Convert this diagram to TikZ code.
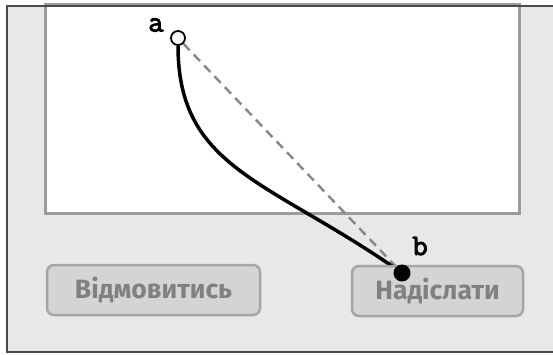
\documentclass[tikz,border=0pt]{standalone}
\usepackage{fontspec}
\setmainfont{Fira Sans}
\newfontfamily\lblfont[FakeBold=3]{Latin Modern Mono}
\pgfdeclarelayer{bg}
\pgfdeclarelayer{lines}
\pgfsetlayers{bg,lines,main}
\definecolor{panelgray}{HTML}{E8E8E8}
\definecolor{framegray}{HTML}{4A4A4A}
\definecolor{rectborder}{HTML}{9C9C9C}
\definecolor{btnfill}{HTML}{D4D4D4}
\definecolor{btnborder}{HTML}{A6A6A6}
\definecolor{btntext}{HTML}{808080}
\definecolor{dashgray}{HTML}{878787}
\tikzset{
  btn/.style={draw=btnborder, line width=2.5pt, fill=btnfill, rounded corners=7pt,
    minimum height=50pt, inner sep=0pt, text=btntext,
    font=\fontsize{26.5}{26.5}\selectfont\bfseries},
  lbl/.style={inner sep=0pt, font=\fontsize{30}{30}\selectfont\lblfont},
  opendot/.style={circle, draw=black, fill=white, line width=1.8pt, minimum size=14pt, inner sep=0pt},
  filleddot/.style={circle, fill=black, minimum size=17pt, inner sep=0pt},
  pathline/.style={line width=3.5pt, black},
  straightline/.style={line width=2.4pt, dashgray, dash pattern=on 9pt off 6pt}
}
\begin{document}
\begin{tikzpicture}[x=1pt, y=-1pt]
\useasboundingbox (0,0) rectangle (553,354);
\begin{pgfonlayer}{bg}
  \fill[white] (0,0) rectangle (553,354);
  \fill[panelgray] (7,6) rectangle (553,351.5);
  \draw[rectborder, line width=3pt, fill=white] (45.5,4) rectangle (519,213);
  \draw[framegray, line width=2pt] (553,6) -- (7,6) -- (7,351.5) -- (553,351.5);
\end{pgfonlayer}
\node[btn, minimum width=213pt] (cancel) at (153.5,290) {Відмовитись};
\node[btn, minimum width=171pt] (send) at (437.5,291) {Надіслати};
\node[opendot] (a) at (178,38) {};
\node[filleddot] (b) at (402,273) {};
\node[lbl] (la) at (156,25) {a};
\node[lbl] (lb) at (420,246) {b};
\begin{pgfonlayer}{lines}
  \draw[straightline] (a) -- (b);
  \draw[pathline] (a.south) .. controls (178,170) and (270,180) .. (b.center);
\end{pgfonlayer}
\end{tikzpicture}
\end{document}
